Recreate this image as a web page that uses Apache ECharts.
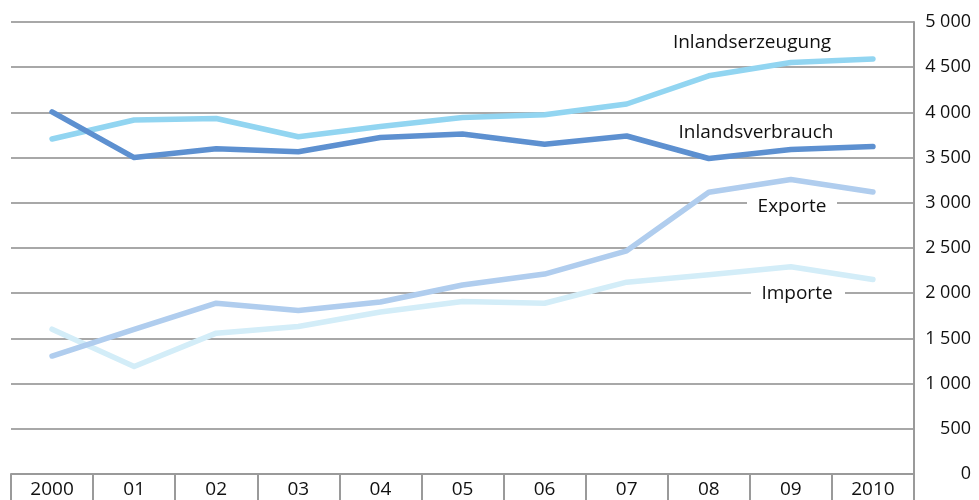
<!DOCTYPE html>
<html><head><meta charset="utf-8">
<script src="https://cdn.jsdelivr.net/npm/echarts@6/dist/echarts.min.js"></script>
<style>html,body{margin:0;padding:0;background:#fff}#c{width:979px;height:500px}</style>
</head><body><div id="c"></div>
<script>
const years = ['2000','01','02','03','04','05','06','07','08','09','2010'];
const inlandsverbrauch = [4005, 3500, 3598, 3565, 3722, 3760, 3648, 3739, 3490, 3590, 3623];
const inlandserzeugung = [3706, 3916, 3932, 3730, 3845, 3944, 3973, 4093, 4405, 4552, 4592];
const exporte = [1305, 1600, 1889, 1809, 1903, 2090, 2212, 2469, 3117, 3258, 3119];
const importe = [1602, 1190, 1558, 1632, 1792, 1908, 1889, 2122, 2203, 2292, 2151];
const yTicks = {min: 0, max: 5000, step: 500};

const FONT = 'Open Sans';
const chart = echarts.init(document.getElementById('c'), null, {renderer: 'canvas'});
const fmt = v => String(v).replace(/\B(?=(\d{3})+(?!\d))/g, ' ');
function line(name, data, color) {
  return {name, type: 'line', data, symbol: 'none', smooth: false, z: 2,
    lineStyle: {color, width: 5.5, cap: 'round', join: 'round'}, itemStyle: {color}, silent: true};
}
const lblFont = '19px "Open Sans"';
chart.setOption({
  animation: false,
  textStyle: {fontFamily: FONT},
  grid: {left: 11, right: 65, top: 22, bottom: 26, containLabel: false},
  xAxis: {
    type: 'category', data: years, boundaryGap: true,
    axisLine: {show: true, lineStyle: {color: '#9a9a9a', width: 2}},
    axisTick: {show: true, interval: 0, length: 26, lineStyle: {color: '#9a9a9a', width: 2}},
    axisLabel: {interval: 0, margin: 6, color: '#111', fontSize: 19, fontFamily: FONT}
  },
  yAxis: {
    type: 'value', position: 'right', min: yTicks.min, max: yTicks.max, interval: yTicks.step,
    axisLine: {show: true, lineStyle: {color: '#9a9a9a', width: 2}},
    axisTick: {show: false},
    splitLine: {show: true, lineStyle: {color: '#a8a8a8', width: 2}},
    axisLabel: {align: 'right', margin: 57, color: '#111', fontSize: 18, fontFamily: FONT, formatter: fmt}
  },
  series: [
    line('Importe', importe, '#d3edf8'),
    line('Exporte', exporte, '#b0cdee'),
    line('Inlandserzeugung', inlandserzeugung, '#92d5f1'),
    line('Inlandsverbrauch', inlandsverbrauch, '#5d90d0')
  ],
  graphic: [
    {type: 'rect', z: 1, shape: {x: 747, y: 196, width: 90, height: 22}, style: {fill: '#fff'}},
    {type: 'rect', z: 1, shape: {x: 751, y: 283, width: 94, height: 22}, style: {fill: '#fff'}},
    {type: 'text', z: 3, x: 752, y: 43, style: {text: 'Inlandserzeugung', font: lblFont, fill: '#111', align: 'center', verticalAlign: 'middle'}},
    {type: 'text', z: 3, x: 756, y: 133, style: {text: 'Inlandsverbrauch', font: lblFont, fill: '#111', align: 'center', verticalAlign: 'middle'}},
    {type: 'text', z: 3, x: 792, y: 207, style: {text: 'Exporte', font: lblFont, fill: '#111', align: 'center', verticalAlign: 'middle'}},
    {type: 'text', z: 3, x: 797, y: 294, style: {text: 'Importe', font: lblFont, fill: '#111', align: 'center', verticalAlign: 'middle'}}
  ]
});
</script></body></html>
